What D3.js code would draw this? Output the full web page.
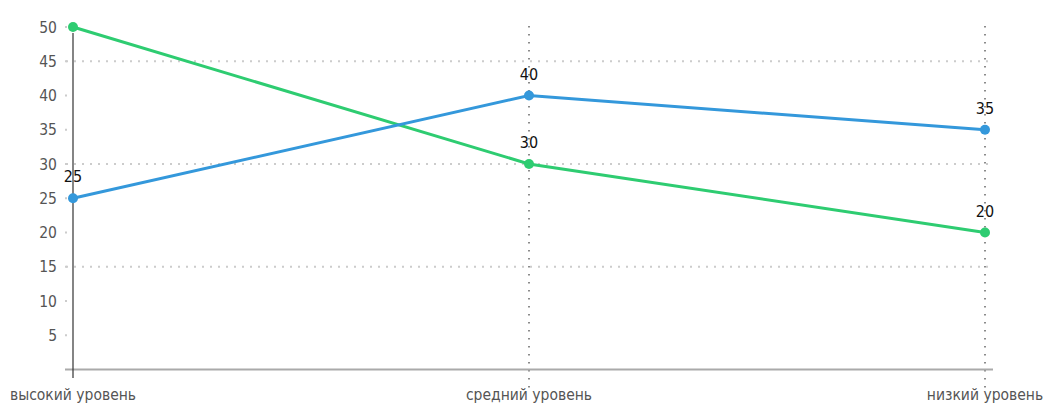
<!DOCTYPE html>
<html>
<head>
<meta charset="utf-8">
<script src="https://cdnjs.cloudflare.com/ajax/libs/d3/7.8.5/d3.min.js"></script>
<style>
    body { margin: 0; background: #fff; }
    svg text { font-family: "DejaVu Sans Condensed", "Liberation Sans Narrow", sans-serif; }
</style>
</head>
<body>
<div id="chart"></div>
<script>
var categories = ["высокий уровень", "средний уровень", "низкий уровень"];
var blueValues = [25, 40, 35];
var greenValues = [50, 30, 20];
var yTicks = [5, 10, 15, 20, 25, 30, 35, 40, 45, 50];
var gridValues = [15, 30, 45];

var fullWidth = 1043;
var fullHeight = 403;

var svg = d3.select("#chart").append("svg")
    .attr("width", fullWidth)
    .attr("height", fullHeight);

var x = d3.scalePoint()
    .domain(categories)
    .range([73, 985]);

var y = d3.scaleLinear()
    .domain([0, 50])
    .range([369.5, 27]);

// horizontal dotted grid
svg.append("g").selectAll("line")
    .data(gridValues)
    .enter().append("line")
    .attr("x1", 66).attr("x2", 992)
    .attr("y1", d => y(d)).attr("y2", d => y(d))
    .style("stroke", "#ccc")
    .style("stroke-width", 2)
    .style("stroke-dasharray", "2,6");

// little tick dots
svg.append("g").selectAll("rect")
    .data(yTicks)
    .enter().append("rect")
    .attr("x", 65).attr("y", d => y(d) - 1)
    .attr("width", 2).attr("height", 2)
    .style("fill", "#ccc");

// vertical dotted lines for the 2nd and 3rd category
svg.append("g").selectAll("line")
    .data(categories.slice(1))
    .enter().append("line")
    .attr("x1", d => x(d)).attr("x2", d => x(d))
    .attr("y1", 26).attr("y2", 390)
    .style("stroke", "#666")
    .style("stroke-width", 1.5)
    .style("stroke-dasharray", "1.5,6.5");

// baseline
svg.append("line")
    .attr("x1", 65).attr("x2", 993)
    .attr("y1", y(0)).attr("y2", y(0))
    .style("stroke", "#aaa")
    .style("stroke-width", 2);

// y axis line
svg.append("line")
    .attr("x1", x(categories[0])).attr("x2", x(categories[0]))
    .attr("y1", 33).attr("y2", 378)
    .style("stroke", "#333")
    .style("stroke-width", 1.2);

// y tick labels
svg.append("g").selectAll("text")
    .data(yTicks)
    .enter().append("text")
    .attr("x", 57).attr("y", d => y(d) + 5.5)
    .attr("text-anchor", "end")
    .style("font-size", "15.5px")
    .style("fill", "#555")
    .text(d => d);

// category labels
svg.append("g").selectAll("text")
    .data(categories)
    .enter().append("text")
    .attr("x", d => x(d)).attr("y", 400)
    .attr("text-anchor", "middle")
    .style("font-size", "15.5px")
    .style("fill", "#555")
    .text(d => d);

var line = d3.line()
    .x((d, i) => x(categories[i]))
    .y(d => y(d))
    .curve(d3.curveLinear);

var series = [
    { values: greenValues, color: "#2ecc71" },
    { values: blueValues, color: "#3498db" }
];

series.forEach(function (s) {
    svg.append("path")
        .datum(s.values)
        .attr("d", line)
        .style("fill", "none")
        .style("stroke", s.color)
        .style("stroke-width", 3);

    svg.append("g").selectAll("circle")
        .data(s.values)
        .enter().append("circle")
        .attr("cx", (d, i) => x(categories[i]))
        .attr("cy", d => y(d))
        .attr("r", 5)
        .style("fill", s.color);

    // value labels; the ones that would run off the top are not shown
    svg.append("g").selectAll("text")
        .data(s.values.map((v, i) => ({ v: v, c: categories[i] })).filter(d => y(d.v) - 16 > 20))
        .enter().append("text")
        .attr("x", d => x(d.c))
        .attr("y", d => y(d.v) - 16)
        .attr("text-anchor", "middle")
        .style("font-size", "16px")
        .style("fill", "#111")
        .text(d => d.v);
});
</script>
</body>
</html>
